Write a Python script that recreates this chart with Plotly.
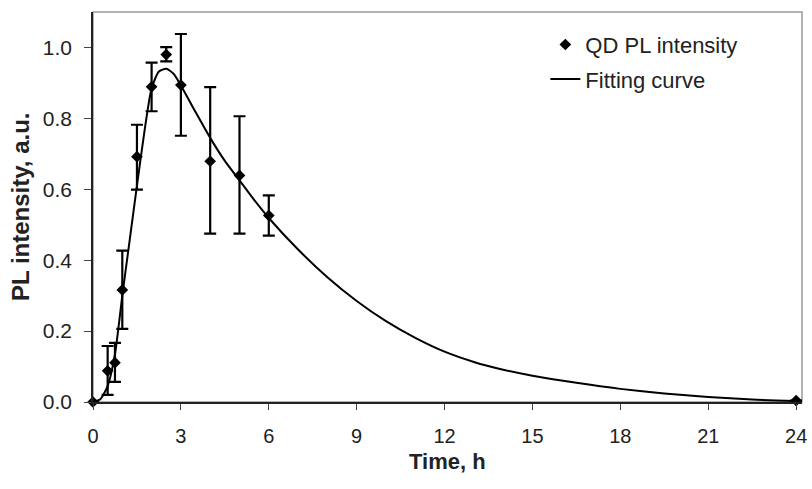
import plotly.graph_objects as go

# measured QD PL intensity (a.u.) vs time (h)
time_h = [0, 0.5, 0.75, 1, 1.5, 2, 2.5, 3, 4, 5, 6, 24]
pl_intensity = [0, 0.088, 0.111, 0.316, 0.692, 0.889, 0.980, 0.894, 0.679, 0.639, 0.526, 0.004]
err_up = [0, 0.070, 0.056, 0.111, 0.090, 0.068, 0.021, 0.144, 0.209, 0.167, 0.057, 0]
err_down = [0, 0.068, 0.054, 0.110, 0.093, 0.069, 0.019, 0.143, 0.204, 0.164, 0.057, 0]

# fitting curve
fit_t = [0, 0.25, 0.5, 0.75, 1.0, 1.25, 1.5, 1.75, 2.0, 2.25, 2.5, 2.75, 3.0, 3.5, 4.0,
         4.5, 5.0, 5.5, 6.0, 7.0, 8.0, 9.0, 10.0, 11.0, 12.0, 13.0, 14.0, 15.0, 16.5,
         18.0, 19.5, 21.0, 22.5, 24.0]
fit_y = [0, 0.008, 0.045, 0.135, 0.30, 0.455, 0.61, 0.76, 0.885, 0.932, 0.940, 0.926,
         0.893, 0.818, 0.745, 0.680, 0.625, 0.570, 0.519, 0.430, 0.352, 0.285, 0.228,
         0.181, 0.142, 0.113, 0.091, 0.074, 0.054, 0.037, 0.024, 0.014, 0.007, 0.003]

x_ticks = [0, 3, 6, 9, 12, 15, 18, 21, 24]
y_ticks = [0.0, 0.2, 0.4, 0.6, 0.8, 1.0]

FONT = "Liberation Sans, Arial, sans-serif"
INK = '#222'

fig = go.Figure()

fig.add_trace(go.Scatter(
    x=time_h, y=pl_intensity, mode='markers', name='QD PL intensity',
    legendgroup='a',
    marker=dict(symbol='diamond', size=9, color='black'),
    error_y=dict(type='data', symmetric=False, array=err_up, arrayminus=err_down,
                 color='black', thickness=2.2, width=6),
    cliponaxis=False,
))

fig.add_trace(go.Scatter(
    x=fit_t, y=fit_y, mode='lines', name='Fitting curve',
    legendgroup='b',
    line=dict(color='black', width=2, shape='spline', smoothing=0.6),
    cliponaxis=False,
))

fig.update_layout(
    width=812, height=489,
    paper_bgcolor='white', plot_bgcolor='white',
    margin=dict(l=93, r=10, t=12, b=87),
    font=dict(family=FONT, size=20, color=INK),
    showlegend=True,
    legend=dict(x=0.638, y=0.97, xanchor='left', yanchor='top',
                bgcolor='rgba(0,0,0,0)', font=dict(size=22, color=INK),
                tracegroupgap=3),
    xaxis=dict(range=[0, 24.2], tickvals=x_ticks, showgrid=False, zeroline=False,
               showline=True, linecolor=INK, linewidth=1.5, automargin=False,
               ticks='outside', ticklen=6, tickcolor='#444', tickwidth=1,
               ticklabelstandoff=9, tickfont=dict(size=20)),
    yaxis=dict(range=[0, 1.1], tickvals=y_ticks, tickformat='.1f', showgrid=False,
               zeroline=False, showline=True, linecolor=INK, linewidth=1.5,
               automargin=False,
               ticks='outside', ticklen=7, tickcolor='#444', tickwidth=1,
               ticklabelstandoff=8, tickfont=dict(size=21)),
    shapes=[dict(type='rect', xref='paper', yref='paper', x0=0, y0=0, x1=1, y1=1,
                 line=dict(color='#999', width=1.5), layer='below')],
    annotations=[
        dict(text='<b>Time, h</b>', xref='paper', yref='paper', x=0.5, y=-0.153,
             yanchor='middle', showarrow=False, font=dict(size=22, color=INK)),
        dict(text='<b>PL intensity, a.u.</b>', xref='paper', yref='paper', x=-0.103,
             y=0.5, textangle=-90, showarrow=False, xanchor='center',
             font=dict(size=24, color=INK)),
    ],
)

# drop the browser's default body margin so the figure sits at the page corner
fig.write_html("out.html", config={'displayModeBar': False},
               post_script="document.body.style.margin='0';")
